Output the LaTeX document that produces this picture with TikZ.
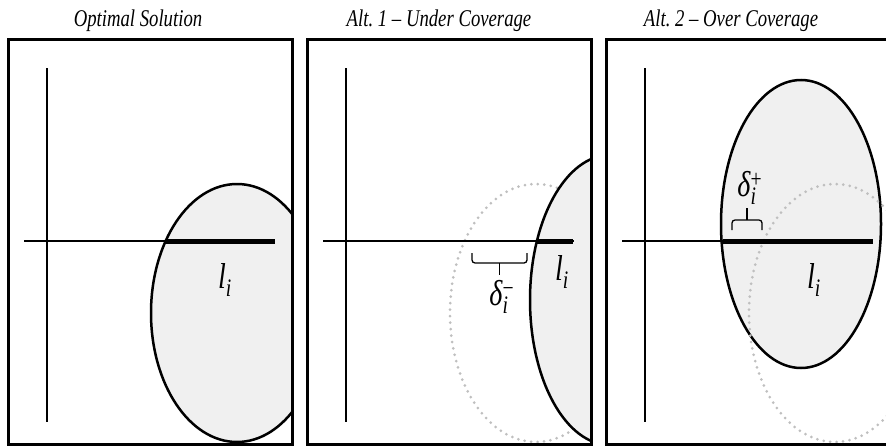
\documentclass[tikz,border=0pt]{standalone}
\usepackage{fontspec}
\setmainfont{Liberation Serif}
\newfontfamily\narrowfont[FakeStretch=0.78, Ligatures=TeX]{Liberation Serif}
\usetikzlibrary{positioning}
\newcommand{\lenlab}{\textit{l}\textsubscript{\textit{i}}}
\newcommand{\gaplab}[1]{\textit{δ}\rlap{\textsuperscript{#1}}\textsubscript{\textit{i}}}

\begin{document}
\begin{tikzpicture}[x=1pt, y=-1pt,
    frame/.style={line width=3pt},
    axis/.style={line width=1.5pt},
    ruler/.style={line width=2pt},
    inside/.style={line width=5pt},
    zone/.style={draw=black, line width=2.5pt, fill=gray!12},
    ghost/.style={draw=gray!50, line width=3pt, dash pattern=on 0pt off 6.5pt, line cap=round},
    title/.style={font=\narrowfont\fontsize{24}{26}\selectfont\itshape, anchor=base},
    lab/.style={font=\narrowfont\fontsize{36}{38}\selectfont},
    bracket/.style={line width=1.3pt, rounded corners=3pt}
  ]
  \clip (0,0) rectangle (886,447);

  % coverage ellipses, clipped to their frames
  \begin{scope}
    \clip (8,39) rectangle (292,444);
    \draw[zone] (237,313) ellipse [x radius=86, y radius=129];
  \end{scope}
  \begin{scope}
    \clip (307,39) rectangle (590,444);
    \draw[ghost] (536,313) ellipse [x radius=86, y radius=129];
    \draw[zone] (610,300) ellipse [x radius=80, y radius=145];
  \end{scope}
  \begin{scope}
    \clip (606,39) rectangle (890,444);
    \draw[zone] (801,224) ellipse [x radius=80, y radius=144];
    \draw[ghost] (835,313) ellipse [x radius=86, y radius=129];
  \end{scope}

  % frames, axes and titles
  \foreach \dx/\tx/\tag/\txt in {
    0/138/opt/{Optimal Solution},
    299/439/under/{Alt.\ 1 – Under Coverage},
    598/731/over/{Alt.\ 2 – Over Coverage}
  }{
    \draw[frame] (8+\dx,39) rectangle (292+\dx,444);
    \draw[axis] (47+\dx,68) -- (47+\dx,422);
    \draw[ruler] (24+\dx,241) -- (275+\dx,241);
    \node[title] (title-\tag) at (\tx,26) {\txt};
  }

  % covered part of each line
  \draw[inside] (166,241) -- (275,241);
  \draw[inside] (537,241) -- (573,241);
  \draw[inside] (723,241) -- (873,241);

  % gaps
  \draw[bracket] (472,253) -- (472,263) -- (527,263) -- (527,253);
  \draw[bracket] (499.5,263) -- (499.5,275);
  \draw[bracket] (732,230) -- (732,220) -- (762,220) -- (762,230);
  \draw[bracket] (747,220) -- (747,208);

  % labels
  \node[lab] (len-opt) at (225,280) {\lenlab};
  \node[lab] (len-under) at (562,272) {\lenlab};
  \node[lab] (len-over) at (814,280) {\lenlab};
  \node[lab] (gap-under) at (499,297) {\gaplab{−}};
  \node[lab] (gap-over) at (747,188) {\gaplab{+}};
\end{tikzpicture}
\end{document}
